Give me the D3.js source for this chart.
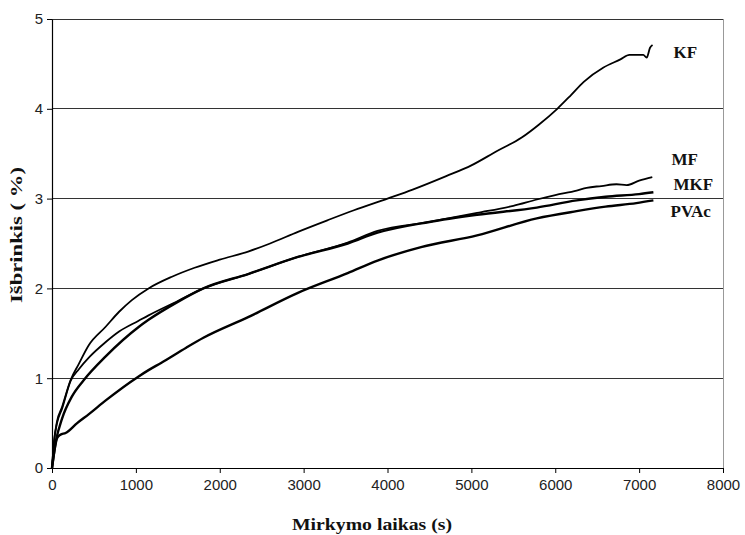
<!DOCTYPE html>
<html><head><meta charset="utf-8">
<script src="https://cdn.jsdelivr.net/npm/d3@7/dist/d3.min.js"></script>
<style>body{margin:0;background:#fff}svg{display:block}</style>
</head><body><svg id="c" width="745" height="535"></svg>
<script>
const xTicks = [0,1000,2000,3000,4000,5000,6000,7000,8000];
const yTicks = [0,1,2,3,4,5];

const kfT = [0,25,60,120,222,320,440,637,800,952,1151,1430,1700,2000,2338,2600,2932,3288,3600,4000,4300,4700,5000,5306,5600,5800,6024,6185,6340,6575,6777,6885,7050,7090,7130,7160];
const kfV = [0,0.3,0.52,0.68,0.98,1.16,1.37,1.57,1.74,1.87,2.0,2.13,2.23,2.32,2.41,2.5,2.63,2.76,2.87,3.0,3.1,3.25,3.37,3.53,3.68,3.82,4.0,4.15,4.3,4.46,4.55,4.6,4.6,4.57,4.68,4.71];

const mfT = [0,25,60,120,222,320,450,637,800,1033,1151,1500,1805,2338,2932,3525,3881,4500,5068,5500,5780,6000,6255,6374,6550,6730,6850,7000,7157];
const mfV = [0,0.3,0.5,0.66,0.97,1.1,1.24,1.4,1.52,1.64,1.7,1.86,2.0,2.16,2.35,2.51,2.64,2.74,2.84,2.92,2.99,3.04,3.09,3.12,3.14,3.16,3.15,3.2,3.24];

const mkfT = [0,47,120,240,380,637,1033,1151,1500,1805,2338,2932,3525,3881,4500,5068,5780,6255,6600,7000,7170];
const mkfV = [0,0.3,0.55,0.8,0.98,1.24,1.57,1.65,1.85,2.0,2.16,2.35,2.5,2.62,2.74,2.82,2.9,2.98,3.02,3.05,3.07];

const pvT = [0,30,60,100,162,300,440,637,1033,1151,1300,1600,1805,2338,2932,3525,3881,4400,5068,5780,6255,6600,6967,7170];
const pvV = [0,0.2,0.33,0.37,0.39,0.5,0.6,0.75,1.02,1.09,1.17,1.34,1.45,1.68,1.95,2.17,2.31,2.46,2.59,2.78,2.86,2.91,2.95,2.98];

const seriesNames = ["KF","MF","MKF","PVAc"];

const svg = d3.select("#c");
const m = {l:52, r:22, t:19, b:67};
const W = 745, H = 535;
const x = d3.scaleLinear().domain([0,8000]).range([m.l, W-m.r]);
const y = d3.scaleLinear().domain([0,5]).range([H-m.b, m.t]);

// gridlines
svg.append("g").selectAll("line").data(yTicks.filter(d=>d>0)).join("line")
  .attr("x1", x(0)).attr("x2", x(8000)).attr("y1", d=>y(d)).attr("y2", d=>y(d))
  .attr("stroke","#333").attr("stroke-width",1).attr("shape-rendering","crispEdges");
svg.append("line").attr("x1",x(8000)).attr("x2",x(8000)).attr("y1",y(5)).attr("y2",y(0))
  .attr("stroke","#999").attr("shape-rendering","crispEdges");

const xa = svg.append("g").attr("transform",`translate(0,${y(0)})`)
  .call(d3.axisBottom(x).tickValues(xTicks).tickSize(5).tickSizeOuter(0).tickFormat(d3.format("d")));
const ya = svg.append("g").attr("transform",`translate(${x(0)},0)`)
  .call(d3.axisLeft(y).tickValues(yTicks).tickSize(5).tickSizeOuter(0).tickFormat(d3.format("d")));
[xa,ya].forEach(a=>{
  a.select(".domain").attr("stroke","#000").attr("stroke-width",1.2);
  a.selectAll(".tick line").attr("stroke","#000");
  a.selectAll("text").attr("font-family","'Liberation Sans', Arial, sans-serif").attr("font-size",15).attr("fill","#222");
});
xa.selectAll("text").attr("dy","0.95em");
ya.selectAll("text").attr("dx","-1px");

const data = [[kfT,kfV],[mfT,mfV],[mkfT,mkfV],[pvT,pvV]];
const widths = [1.8,1.8,2.4,2.4];
const line = d3.line().x(d=>x(d[0])).y(d=>y(d[1])).curve(d3.curveMonotoneX);
data.forEach((s,i)=>{
  const pts = s[0].map((t,j)=>[t,s[1][j]]);
  svg.append("path").datum(pts).attr("d",line).attr("fill","none")
    .attr("stroke","#000").attr("stroke-width",widths[i]).attr("stroke-linejoin","round");
});

// series labels
const labelPos = [[7410,4.57],[7385,3.37],[7410,3.1],[7375,2.79]];
svg.append("g").selectAll("text").data(seriesNames).join("text")
  .attr("x",(d,i)=>x(labelPos[i][0])).attr("y",(d,i)=>y(labelPos[i][1]))
  .attr("font-family","'Liberation Serif','Times New Roman',serif").attr("font-weight","bold")
  .attr("font-size",17).attr("fill","#111").text(d=>d);

// axis titles
svg.append("text").attr("x",372).attr("y",530).attr("text-anchor","middle")
  .attr("font-family","'Liberation Serif','Times New Roman',serif").attr("font-weight","bold")
  .attr("font-size",16).attr("textLength",160).attr("lengthAdjust","spacingAndGlyphs")
  .attr("fill","#111").text("Mirkymo laikas (s)");
svg.append("text").attr("transform",`translate(22,${235}) rotate(-90)`).attr("text-anchor","middle")
  .attr("font-family","'Liberation Serif','Times New Roman',serif").attr("font-weight","bold")
  .attr("font-size",17).attr("textLength",136).attr("lengthAdjust","spacingAndGlyphs")
  .attr("fill","#111").text("Išbrinkis ( %)");
</script></body></html>
